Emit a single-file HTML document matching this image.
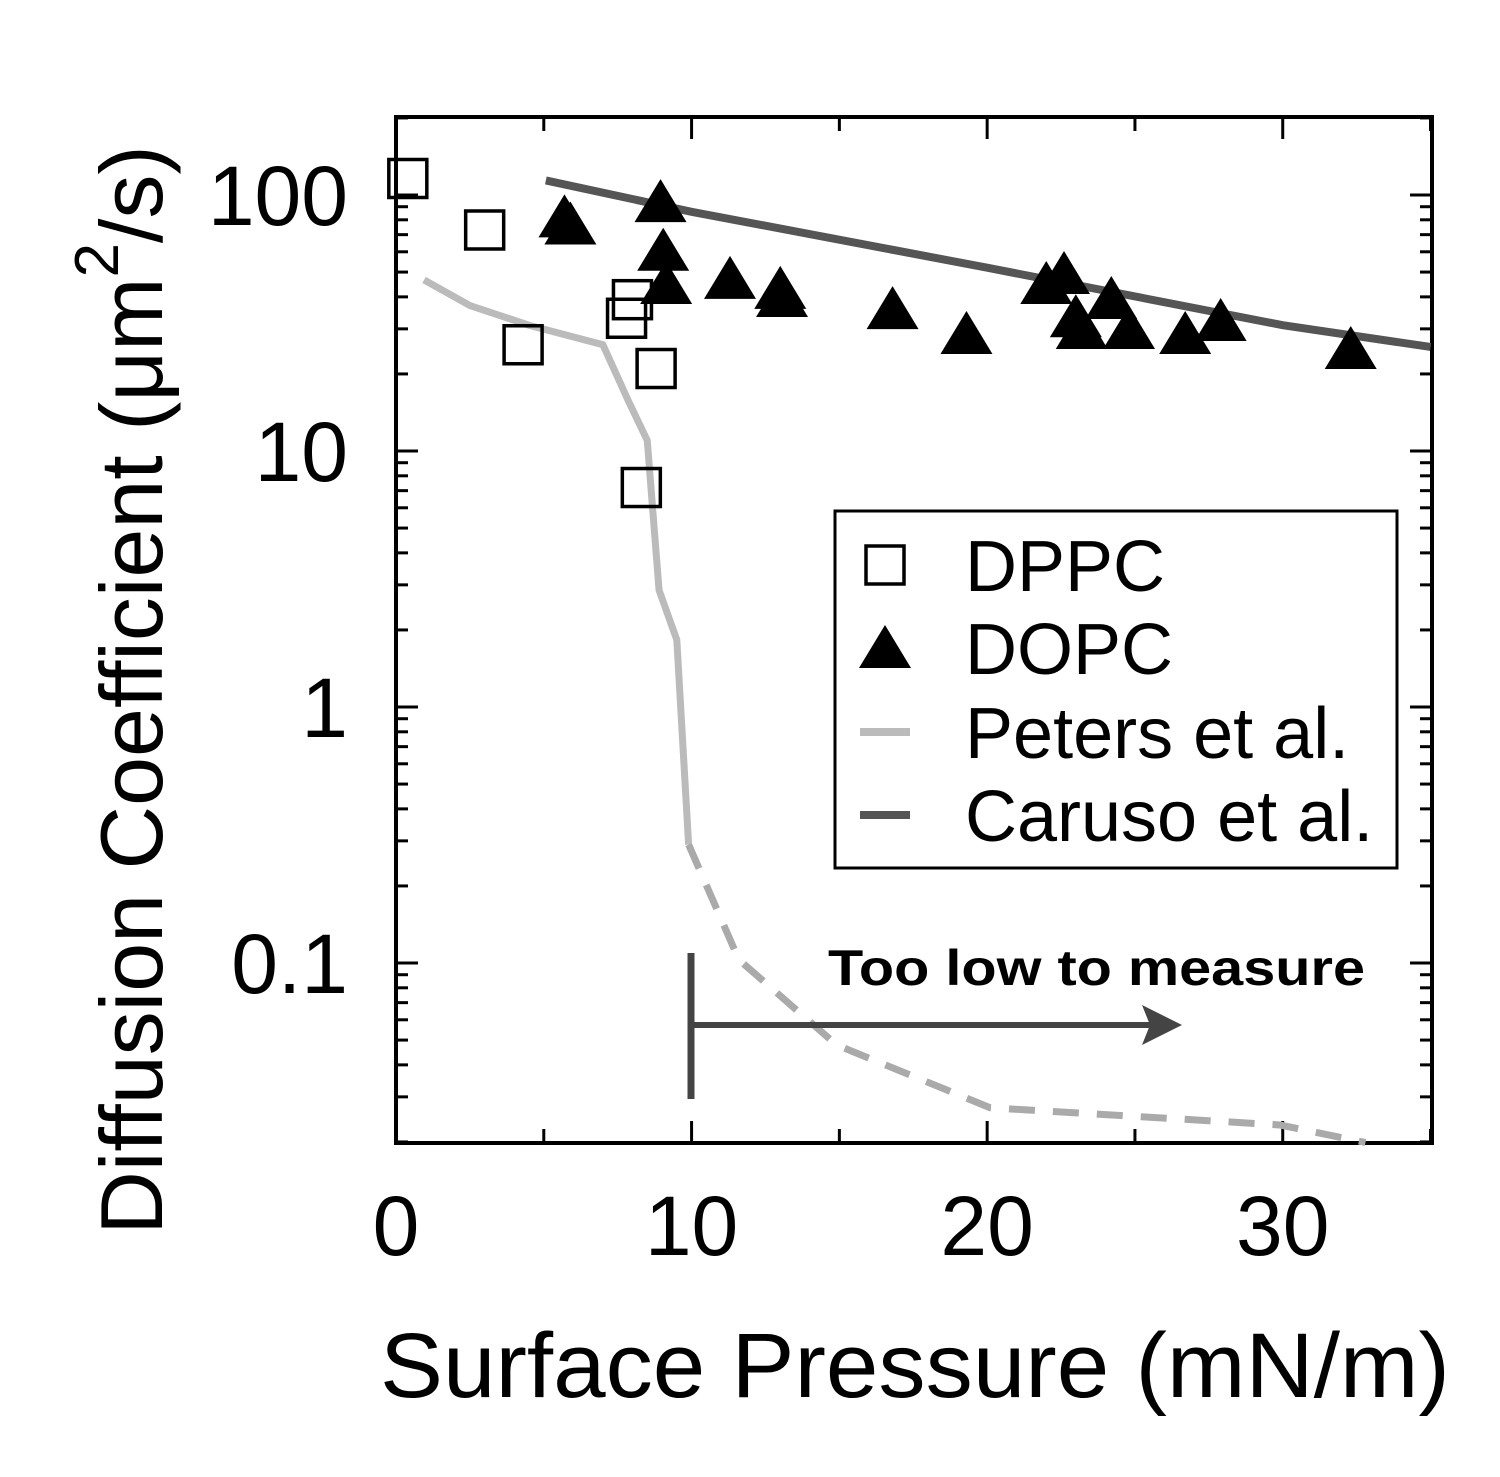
<!DOCTYPE html>
<html><head><meta charset="utf-8"><style>
html,body{margin:0;padding:0;background:#fff;}
svg{display:block;font-family:"Liberation Sans",sans-serif;}
</style></head><body>
<svg id="chart" width="1500" height="1477" viewBox="0 0 1500 1477">
<g id="plot"></g>
</svg>
<script>
const dppcX=[0.4,3.0,4.3,7.8,8.0,8.8,8.3];
const dppcY=[116,73,26,33,39,21,7.2];
const dopcX=[5.7,5.9,8.95,9.04,9.14,11.3,13.0,13.06,16.8,19.3,22.0,22.6,23.0,23.2,24.2,24.8,26.7,27.9,32.3];
const dopcY=[81,76,93,60,44.5,46.6,42.6,39.6,35.5,28.4,44.5,48.7,33,29.7,38.9,29.7,28.4,31.9,24.8];
const carusoX=[5.07,10,20,30,35];
const carusoY=[114,86,52,31,25.5];
const petersX=[0.95,2.5,4.5,7.0,7.85,8.5,8.9,9.5,9.9];
const petersY=[46.6,37,31,26,15.8,11,2.86,1.83,0.29];
const petersDashX=[9.9,11.6,14.9,20.1,29.9,32.8];
const petersDashY=[0.29,0.103,0.0479,0.0272,0.0233,0.0199];
const xTicks=[0,10,20,30];
const xTickLabels=["0","10","20","30"];
const yTicks=[100,10,1,0.1];
const yTickLabels=["100","10","1","0.1"];

const L=396,R=1432,T=117,B=1143;
const sx=v=>L+v*(1036/35.05);
const sy=v=>195-(Math.log10(v)-2)*256;
const NS="http://www.w3.org/2000/svg";
const g=document.getElementById('plot');
function mk(tag,attrs,parent){const e=document.createElementNS(NS,tag);for(const k in attrs)e.setAttribute(k,attrs[k]);(parent||g).appendChild(e);return e;}

let fr=mk('rect',{x:L,y:T,width:R-L,height:B-T,fill:'none',stroke:'#000','stroke-width':4});



for(let v=0;v<=35;v+=5){
  const x=sx(v),len=v%10===0?22:14;
  let t1=mk('line',{x1:x,y1:B,x2:x,y2:B-len,stroke:'#000','stroke-width':3});
  
  
  let t2=mk('line',{x1:x,y1:T,x2:x,y2:T+len,stroke:'#000','stroke-width':3});
  
  
}
xTicks.forEach((v,i)=>{
  let t=mk('text',{x:sx(v),y:1255,'font-size':84,'text-anchor':'middle'});
  t.textContent=xTickLabels[i];
  
  
});
for(let d=-2;d<=2;d++){
  for(let m=1;m<10;m++){
    const v=m*Math.pow(10,d);
    if(v<0.0199||v>202)continue;
    const y=sy(v),len=m===1?22:12;
    let a=mk('line',{x1:L,y1:y,x2:L+len,y2:y,stroke:'#000','stroke-width':3});
    
    
    let b=mk('line',{x1:R,y1:y,x2:R-len,y2:y,stroke:'#000','stroke-width':3});
    
    
  }
}
yTicks.forEach((v,i)=>{
  let t=mk('text',{x:348,y:sy(v)+30,'font-size':84,'text-anchor':'end'});
  t.textContent=yTickLabels[i];
  
  
});

function path(xs,ys){return xs.map((x,i)=>(i?'L':'M')+sx(x)+','+sy(ys[i])).join(' ');}
let pl=mk('path',{d:path(petersX,petersY),fill:'none',stroke:'#bbb','stroke-width':7});


let pd=mk('path',{d:path(petersDashX,petersDashY),fill:'none',stroke:'#aaa','stroke-width':7,'stroke-dasharray':'26,18'});


let cl=mk('path',{d:path(carusoX,carusoY),fill:'none',stroke:'#555','stroke-width':8});



dppcX.forEach((x,i)=>{
  let r=mk('rect',{x:sx(x)-19,y:sy(dppcY[i])-19,width:38,height:38,fill:'none',stroke:'#000','stroke-width':3.5});
  
  
});
dopcX.forEach((x,i)=>{
  const cx=sx(x),cy=sy(dopcY[i]);
  let p=mk('polygon',{points:`${cx},${cy-24} ${cx-26},${cy+19} ${cx+26},${cy+19}`,fill:'#000'});
  
  
});

let vl=mk('line',{x1:691,y1:953,x2:691,y2:1099,stroke:'#444','stroke-width':7});


let al=mk('line',{x1:691,y1:1025,x2:1150,y2:1025,stroke:'#444','stroke-width':6});


let ah=mk('polygon',{points:'1182,1025 1142,1005 1150,1025 1142,1045',fill:'#444'});


let at=mk('text',{x:828,y:985,'font-size':50,'font-weight':'bold',textLength:537,lengthAdjust:'spacingAndGlyphs'});
at.textContent='Too low to measure';



let lb=mk('rect',{x:835,y:511,width:562,height:357,fill:'#fff',stroke:'#000','stroke-width':3});


const lg=[['DPPC',565],['DOPC',648],['Peters et al.',732],['Caruso et al.',815]];
let s=mk('rect',{x:866,y:546,width:38,height:38,fill:'none',stroke:'#000','stroke-width':3.5});


s=mk('polygon',{points:'885,625 859,668 911,668',fill:'#000'});


s=mk('line',{x1:860,y1:732,x2:910,y2:732,stroke:'#bbb','stroke-width':8});


s=mk('line',{x1:860,y1:815,x2:910,y2:815,stroke:'#555','stroke-width':8});


lg.forEach(e=>{
  let t=mk('text',{x:965,y:e[1]+26,'font-size':72});
  t.textContent=e[0];
  
  
});

let xt=mk('text',{x:915,y:1397,'font-size':92,'text-anchor':'middle',textLength:1070,lengthAdjust:'spacingAndGlyphs'});
xt.textContent='Surface Pressure (mN/m)';


let yt=mk('text',{x:0,y:0,'font-size':88,'text-anchor':'middle',transform:'translate(162,690) rotate(-90)'});
yt.innerHTML='Diffusion Coefficient (μm<tspan dy="-44" font-size="62">2</tspan><tspan dy="44">/s)</tspan>';


</script>
</body></html>
